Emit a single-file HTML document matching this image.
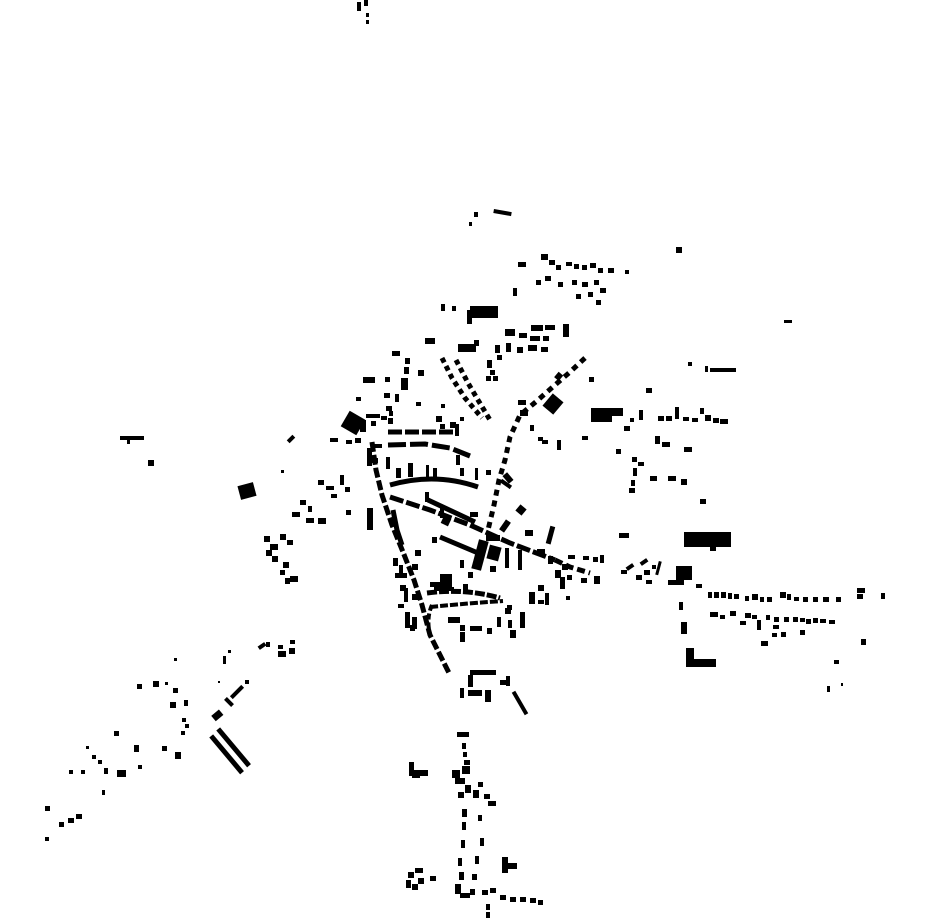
<!DOCTYPE html>
<html><head><meta charset="utf-8"><style>html,body{margin:0;padding:0;background:#fff;width:930px;height:924px;overflow:hidden}svg{display:block}</style></head>
<body>
<svg width="930" height="924" viewBox="0 0 930 924" xmlns="http://www.w3.org/2000/svg">
<g fill="#000" stroke="none">
<!-- top -->
<rect x="357" y="2" width="4" height="9"/><rect x="364" y="0" width="4" height="6"/><rect x="366" y="13" width="3" height="4"/><rect x="366" y="20" width="3" height="4"/>
<rect x="474" y="212" width="4" height="5"/><rect x="469" y="222" width="3" height="4"/><rect x="494" y="209" width="18" height="4" transform="rotate(10 494 209)"/>
<rect x="676" y="247" width="6" height="6"/><rect x="784" y="320" width="8" height="3"/>
<!-- NE cluster -->
<rect x="518" y="262" width="8" height="5"/><rect x="541" y="254" width="7" height="6"/><rect x="549" y="260" width="6" height="5"/><rect x="556" y="265" width="5" height="5"/><rect x="566" y="262" width="6" height="4"/><rect x="574" y="264" width="5" height="5"/><rect x="582" y="265" width="5" height="5"/><rect x="590" y="263" width="6" height="5"/><rect x="598" y="268" width="5" height="5"/><rect x="608" y="268" width="6" height="5"/><rect x="625" y="270" width="4" height="4"/>
<rect x="536" y="280" width="5" height="5"/><rect x="545" y="276" width="6" height="5"/><rect x="558" y="282" width="5" height="5"/><rect x="572" y="280" width="5" height="5"/><rect x="582" y="282" width="6" height="5"/><rect x="594" y="280" width="5" height="5"/><rect x="600" y="288" width="6" height="5"/><rect x="588" y="292" width="5" height="5"/><rect x="576" y="294" width="5" height="5"/><rect x="596" y="300" width="5" height="5"/><rect x="513" y="288" width="4" height="8"/>
<rect x="441" y="304" width="4" height="7"/><rect x="452" y="306" width="4" height="5"/><rect x="470" y="306" width="28" height="12"/><rect x="467" y="310" width="5" height="14"/>
<rect x="505" y="329" width="10" height="7"/><rect x="531" y="325" width="12" height="6"/><rect x="545" y="325" width="10" height="5"/><rect x="563" y="324" width="6" height="13"/><rect x="519" y="333" width="8" height="5"/><rect x="530" y="336" width="10" height="5"/><rect x="543" y="336" width="6" height="5"/><rect x="506" y="343" width="5" height="9"/><rect x="517" y="347" width="6" height="6"/><rect x="528" y="345" width="9" height="6"/><rect x="541" y="347" width="7" height="5"/><rect x="495" y="345" width="5" height="8"/><rect x="497" y="355" width="5" height="5"/>
<rect x="425" y="338" width="10" height="6"/><rect x="458" y="344" width="18" height="8"/><rect x="474" y="340" width="5" height="6"/>
<!-- north column -->
<rect x="392" y="351" width="8" height="5"/><rect x="405" y="358" width="5" height="6"/><rect x="404" y="367" width="5" height="7"/><rect x="401" y="378" width="7" height="12"/><rect x="363" y="377" width="12" height="6"/><rect x="385" y="377" width="5" height="5"/><rect x="418" y="370" width="6" height="6"/><rect x="384" y="393" width="6" height="5"/><rect x="395" y="394" width="4" height="8"/><rect x="386" y="406" width="6" height="5"/><rect x="381" y="416" width="6" height="4"/><rect x="389" y="411" width="4" height="5"/><rect x="388" y="418" width="5" height="6"/><rect x="356" y="397" width="5" height="4"/><rect x="416" y="402" width="5" height="4"/><rect x="436" y="416" width="6" height="6"/><rect x="441" y="404" width="4" height="4"/>
<rect x="366" y="414" width="14" height="4"/>
<!-- diag rows north -->
<g transform="rotate(58 442 358)"><rect x="442" y="356" width="72" height="4" fill="none"/></g>
<polyline points="442,358 452,378 465,398 482,418" fill="none" stroke="#000" stroke-width="5" stroke-dasharray="5 4"/>
<polyline points="456,360 468,383 478,400 490,420" fill="none" stroke="#000" stroke-width="5" stroke-dasharray="5 4"/>
<rect x="487" y="360" width="5" height="8"/><rect x="490" y="370" width="5" height="5"/><rect x="493" y="376" width="5" height="5"/>
<rect x="486" y="376" width="5" height="5"/><rect x="450" y="422" width="6" height="6"/><rect x="460" y="417" width="4" height="4"/><rect x="440" y="424" width="5" height="5"/>
<!-- NE road -->
<polyline points="585,358 570,372 555,385 538,400 520,415 510,437 505,460 499,480 494,505 488,530" fill="none" stroke="#000" stroke-width="5" stroke-dasharray="6 5"/>
<rect x="556" y="373" width="6" height="7" transform="rotate(40 559 376)"/><rect x="589" y="377" width="5" height="5"/>
<rect x="546" y="396" width="14" height="16" transform="rotate(40 553 404)"/>
<rect x="591" y="408" width="14" height="14"/><rect x="605" y="408" width="18" height="8"/><rect x="604" y="415" width="8" height="7"/><rect x="630" y="418" width="4" height="4"/><rect x="639" y="410" width="4" height="10"/><rect x="646" y="388" width="6" height="5"/><rect x="658" y="416" width="6" height="5"/><rect x="666" y="416" width="6" height="5"/><rect x="675" y="407" width="4" height="12"/><rect x="683" y="417" width="6" height="4"/><rect x="692" y="418" width="6" height="4"/><rect x="700" y="408" width="4" height="6"/><rect x="705" y="415" width="6" height="6"/><rect x="713" y="418" width="6" height="5"/><rect x="720" y="419" width="8" height="5"/>
<rect x="688" y="362" width="4" height="4"/><rect x="705" y="366" width="3" height="6"/><rect x="710" y="368" width="26" height="4"/>
<rect x="624" y="426" width="6" height="5"/><rect x="538" y="437" width="5" height="4"/><rect x="557" y="440" width="4" height="10"/><rect x="582" y="436" width="6" height="4"/><rect x="616" y="449" width="5" height="5"/><rect x="655" y="436" width="5" height="8"/><rect x="662" y="442" width="8" height="5"/><rect x="684" y="447" width="8" height="5"/>
<rect x="632" y="457" width="5" height="5"/><rect x="638" y="462" width="6" height="4"/><rect x="633" y="468" width="4" height="8"/><rect x="631" y="480" width="4" height="6"/><rect x="629" y="488" width="6" height="5"/><rect x="650" y="476" width="7" height="5"/><rect x="668" y="476" width="8" height="5"/><rect x="681" y="479" width="6" height="6"/><rect x="700" y="499" width="6" height="5"/>
<rect x="518" y="400" width="8" height="5"/><rect x="520" y="410" width="8" height="6"/><rect x="530" y="425" width="4" height="6"/><rect x="542" y="440" width="6" height="4"/>
<!-- center west -->
<rect x="344" y="414" width="18" height="18" transform="rotate(30 353 423)"/><rect x="360" y="420" width="6" height="12"/><rect x="371" y="421" width="5" height="5"/><rect x="330" y="438" width="8" height="4"/><rect x="346" y="440" width="6" height="4"/><rect x="355" y="438" width="6" height="5"/>
<polyline points="388,432 455,432" fill="none" stroke="#000" stroke-width="5" stroke-dasharray="14 3"/>
<rect x="455" y="424" width="4" height="12"/>
<polyline points="388,445 425,444 450,448 470,456" fill="none" stroke="#000" stroke-width="5" stroke-dasharray="18 4"/>
<rect x="374" y="444" width="8" height="4"/><rect x="367" y="448" width="5" height="18"/><rect x="372" y="458" width="6" height="5"/>
<rect x="386" y="457" width="4" height="12"/><rect x="408" y="463" width="5" height="14"/><rect x="396" y="468" width="5" height="10"/><rect x="426" y="465" width="3" height="14"/><rect x="433" y="468" width="4" height="12"/><rect x="460" y="468" width="4" height="8"/><rect x="475" y="468" width="3" height="12"/><rect x="456" y="455" width="4" height="10"/><rect x="486" y="470" width="5" height="5"/>
<path d="M390,485 Q435,472 478,487" fill="none" stroke="#000" stroke-width="5"/>
<rect x="505" y="473" width="6" height="10" transform="rotate(-40 508 478)"/>
<rect x="500" y="482" width="12" height="4" transform="rotate(35 506 484)"/>
<rect x="318" y="480" width="6" height="5"/><rect x="326" y="486" width="8" height="4"/><rect x="340" y="475" width="4" height="10"/><rect x="331" y="494" width="6" height="4"/><rect x="345" y="487" width="5" height="5"/><rect x="300" y="500" width="6" height="5"/><rect x="292" y="512" width="8" height="5"/><rect x="306" y="518" width="8" height="5"/><rect x="318" y="518" width="8" height="6"/><rect x="308" y="506" width="4" height="6"/><rect x="346" y="510" width="5" height="5"/><rect x="239" y="484" width="16" height="14" transform="rotate(-15 247 491)"/><rect x="281" y="470" width="3" height="3"/>
<rect x="120" y="436" width="24" height="4"/><rect x="127" y="440" width="3" height="4"/><rect x="148" y="460" width="6" height="6"/><rect x="287" y="437" width="8" height="4" transform="rotate(-45 291 439)"/>
<!-- west road chain -->
<polyline points="372,442 376,470 382,495 392,525 403,552 414,580 422,605 430,635 440,655 450,675" fill="none" stroke="#000" stroke-width="5" stroke-dasharray="10 3"/>
<polyline points="393,510 397,530 402,545" fill="none" stroke="#000" stroke-width="5"/>
<rect x="367" y="508" width="6" height="22"/>
<!-- diagonal main street -->
<polyline points="390,497 430,510 470,525 510,543 555,560" fill="none" stroke="#000" stroke-width="5" stroke-dasharray="14 3"/>
<polyline points="428,500 475,522" fill="none" stroke="#000" stroke-width="5"/>
<rect x="425" y="492" width="4" height="10"/><rect x="440" y="508" width="4" height="10"/><rect x="442" y="517" width="8" height="8" transform="rotate(25 446 521)"/><rect x="470" y="512" width="8" height="5"/><rect x="517" y="506" width="8" height="8" transform="rotate(40 521 510)"/><rect x="502" y="520" width="6" height="12" transform="rotate(35 505 526)"/><rect x="548" y="526" width="5" height="18" transform="rotate(15 550 535)"/><rect x="525" y="530" width="8" height="6"/>
<polyline points="440,537 478,553" fill="none" stroke="#000" stroke-width="5"/>
<rect x="475" y="540" width="10" height="30" transform="rotate(15 480 555)"/><rect x="488" y="546" width="12" height="14" transform="rotate(15 494 553)"/><rect x="486" y="535" width="14" height="6"/><rect x="505" y="548" width="4" height="20"/><rect x="518" y="550" width="4" height="20"/><rect x="490" y="566" width="6" height="6"/><rect x="460" y="560" width="4" height="8"/><rect x="432" y="537" width="5" height="6"/><rect x="415" y="550" width="6" height="6"/>
<rect x="537" y="549" width="8" height="6"/><rect x="555" y="570" width="6" height="8"/><rect x="548" y="556" width="5" height="8"/>
<!-- to east -->
<polyline points="555,560 570,567 590,573" fill="none" stroke="#000" stroke-width="5" stroke-dasharray="8 4"/>
<rect x="568" y="555" width="7" height="4"/><rect x="583" y="556" width="6" height="4"/><rect x="593" y="557" width="5" height="5"/><rect x="600" y="555" width="4" height="8"/><rect x="581" y="578" width="6" height="5"/><rect x="594" y="576" width="6" height="8"/><rect x="562" y="564" width="6" height="6"/><rect x="567" y="575" width="5" height="5"/><rect x="560" y="585" width="5" height="4"/><rect x="545" y="593" width="4" height="12"/><rect x="566" y="596" width="4" height="4"/><rect x="538" y="585" width="6" height="6"/><rect x="529" y="592" width="6" height="12"/><rect x="520" y="612" width="5" height="16"/><rect x="508" y="620" width="4" height="8"/><rect x="538" y="600" width="6" height="4"/>
<rect x="560" y="577" width="5" height="10"/>
<rect x="619" y="533" width="10" height="5"/><rect x="684" y="532" width="47" height="15"/><rect x="710" y="546" width="6" height="5"/>
<rect x="626" y="565" width="8" height="4" transform="rotate(-35 630 567)"/><rect x="640" y="560" width="8" height="4" transform="rotate(-35 644 562)"/><rect x="652" y="565" width="4" height="4"/><rect x="644" y="570" width="6" height="5"/><rect x="657" y="561" width="3" height="14" transform="rotate(15 658 568)"/><rect x="636" y="575" width="6" height="5"/><rect x="646" y="580" width="6" height="4"/><rect x="621" y="570" width="6" height="4"/>
<rect x="676" y="566" width="16" height="14"/><rect x="668" y="580" width="16" height="5"/><rect x="696" y="584" width="6" height="4"/>
<g><rect x="708" y="592" width="4" height="6"/><rect x="714" y="592" width="5" height="6"/><rect x="721" y="592" width="5" height="6"/><rect x="728" y="593" width="4" height="6"/><rect x="734" y="594" width="5" height="5"/><rect x="745" y="596" width="4" height="5"/><rect x="752" y="594" width="6" height="6"/><rect x="760" y="597" width="4" height="5"/><rect x="767" y="597" width="5" height="5"/><rect x="780" y="592" width="6" height="6"/><rect x="787" y="594" width="4" height="6"/><rect x="794" y="597" width="5" height="4"/><rect x="803" y="597" width="5" height="5"/><rect x="813" y="597" width="5" height="5"/><rect x="823" y="597" width="6" height="5"/><rect x="836" y="597" width="5" height="5"/><rect x="857" y="588" width="8" height="5"/><rect x="857" y="594" width="6" height="5"/><rect x="881" y="593" width="4" height="6"/></g>
<g><rect x="710" y="612" width="8" height="5"/><rect x="720" y="615" width="5" height="4"/><rect x="730" y="611" width="6" height="5"/><rect x="740" y="621" width="6" height="4"/><rect x="745" y="613" width="6" height="5"/><rect x="752" y="615" width="5" height="4"/><rect x="757" y="620" width="4" height="10"/><rect x="766" y="615" width="4" height="5"/><rect x="774" y="617" width="5" height="5"/><rect x="784" y="617" width="5" height="5"/><rect x="793" y="617" width="5" height="5"/><rect x="800" y="618" width="5" height="4"/><rect x="806" y="619" width="5" height="5"/><rect x="813" y="618" width="5" height="5"/><rect x="820" y="619" width="6" height="4"/><rect x="829" y="620" width="6" height="4"/><rect x="773" y="625" width="6" height="4"/><rect x="772" y="633" width="5" height="4"/><rect x="761" y="641" width="7" height="5"/><rect x="781" y="632" width="5" height="5"/><rect x="800" y="630" width="5" height="5"/><rect x="861" y="639" width="5" height="6"/><rect x="834" y="660" width="5" height="4"/><rect x="827" y="686" width="3" height="6"/><rect x="841" y="683" width="2" height="3"/></g>
<rect x="679" y="602" width="4" height="8"/><rect x="681" y="622" width="6" height="12"/><rect x="686" y="648" width="8" height="18"/><rect x="686" y="659" width="30" height="8"/>
<!-- south center -->
<rect x="412" y="564" width="6" height="6"/><rect x="393" y="558" width="5" height="8"/><rect x="399" y="565" width="4" height="10"/><rect x="395" y="573" width="12" height="5"/><rect x="400" y="585" width="6" height="6"/><rect x="404" y="588" width="4" height="14"/><rect x="412" y="594" width="6" height="6"/><rect x="405" y="612" width="5" height="16"/><rect x="412" y="617" width="5" height="12"/><rect x="398" y="604" width="6" height="4"/>
<rect x="440" y="574" width="12" height="14"/><rect x="430" y="582" width="10" height="5"/><rect x="434" y="587" width="20" height="4"/><rect x="463" y="584" width="5" height="6"/><rect x="468" y="572" width="5" height="6"/>
<path d="M427,593 Q465,588 500,598" fill="none" stroke="#000" stroke-width="5" stroke-dasharray="10 2"/>
<path d="M430,607 Q470,603 503,601" fill="none" stroke="#000" stroke-width="4" stroke-dasharray="8 2"/>
<path d="M432,605 Q426,618 430,635" fill="none" stroke="#000" stroke-width="4" stroke-dasharray="6 3"/>
<rect x="448" y="617" width="12" height="6"/><rect x="460" y="625" width="5" height="6"/><rect x="470" y="626" width="12" height="5"/><rect x="487" y="628" width="5" height="6"/><rect x="460" y="632" width="5" height="10"/><rect x="505" y="608" width="6" height="6"/><rect x="510" y="630" width="6" height="8"/><rect x="507" y="605" width="5" height="5"/>
<rect x="497" y="617" width="4" height="10"/><rect x="410" y="625" width="5" height="6"/>
<!-- south -->
<rect x="470" y="670" width="26" height="5"/><rect x="468" y="675" width="5" height="12"/><rect x="460" y="688" width="4" height="10"/><rect x="468" y="690" width="14" height="6"/><rect x="485" y="690" width="6" height="12"/><rect x="500" y="680" width="6" height="5"/><rect x="506" y="676" width="4" height="10"/><rect x="518" y="690" width="4" height="26" transform="rotate(-30 520 703)"/>
<rect x="457" y="732" width="12" height="5"/><rect x="462" y="743" width="4" height="6"/><rect x="463" y="752" width="4" height="5"/><rect x="464" y="760" width="6" height="5"/><rect x="462" y="766" width="8" height="8"/><rect x="452" y="770" width="8" height="8"/><rect x="455" y="778" width="10" height="6"/><rect x="465" y="785" width="6" height="8"/><rect x="458" y="792" width="6" height="6"/><rect x="473" y="790" width="6" height="8"/><rect x="478" y="782" width="5" height="5"/><rect x="484" y="794" width="6" height="5"/><rect x="488" y="801" width="8" height="5"/>
<rect x="409" y="762" width="5" height="14"/><rect x="412" y="770" width="8" height="8"/><rect x="420" y="770" width="8" height="6"/>
<rect x="462" y="809" width="5" height="8"/><rect x="462" y="822" width="4" height="8"/><rect x="478" y="815" width="4" height="6"/><rect x="480" y="838" width="4" height="8"/><rect x="461" y="840" width="4" height="8"/><rect x="475" y="856" width="4" height="8"/><rect x="458" y="858" width="4" height="8"/><rect x="459" y="872" width="5" height="8"/><rect x="472" y="874" width="5" height="6"/><rect x="502" y="857" width="6" height="16"/><rect x="502" y="863" width="15" height="6"/>
<rect x="408" y="872" width="6" height="6"/><rect x="415" y="868" width="8" height="5"/><rect x="406" y="880" width="5" height="8"/><rect x="412" y="884" width="6" height="6"/><rect x="430" y="876" width="6" height="5"/><rect x="418" y="878" width="6" height="6"/>
<rect x="455" y="884" width="6" height="10"/><rect x="460" y="893" width="10" height="5"/><rect x="470" y="889" width="5" height="6"/><rect x="482" y="890" width="6" height="5"/><rect x="490" y="888" width="6" height="5"/><rect x="500" y="895" width="6" height="5"/><rect x="510" y="897" width="6" height="5"/><rect x="520" y="897" width="6" height="5"/><rect x="530" y="898" width="6" height="5"/><rect x="538" y="900" width="5" height="5"/><rect x="486" y="904" width="4" height="6"/><rect x="486" y="912" width="4" height="6"/>
<!-- west cluster around 265-300,530-585 -->
<rect x="264" y="536" width="6" height="6"/><rect x="270" y="544" width="8" height="6"/><rect x="266" y="550" width="6" height="6"/><rect x="280" y="534" width="6" height="6"/><rect x="287" y="540" width="6" height="5"/><rect x="272" y="556" width="6" height="6"/><rect x="283" y="562" width="6" height="6"/><rect x="280" y="570" width="5" height="5"/><rect x="290" y="576" width="8" height="6"/><rect x="285" y="578" width="5" height="6"/>
<!-- SW -->
<rect x="258" y="644" width="8" height="4" transform="rotate(-35 262 646)"/><rect x="266" y="642" width="4" height="5"/><rect x="278" y="645" width="5" height="4"/><rect x="290" y="640" width="5" height="4"/><rect x="278" y="651" width="8" height="6"/><rect x="289" y="648" width="6" height="6"/>
<rect x="223" y="656" width="3" height="8"/><rect x="228" y="650" width="3" height="3"/><rect x="245" y="680" width="4" height="4"/><rect x="229" y="690" width="16" height="4" transform="rotate(-45 237 692)"/><rect x="224" y="700" width="10" height="4" transform="rotate(45 229 702)"/><rect x="212" y="712" width="10" height="7" transform="rotate(-40 217 715)"/><rect x="218" y="681" width="2" height="2"/>
<rect x="203" y="752" width="48" height="5" transform="rotate(50 227 754)"/><rect x="210" y="745" width="48" height="5" transform="rotate(50 234 747)"/>
<rect x="174" y="658" width="3" height="3"/><rect x="165" y="682" width="3" height="3"/><rect x="137" y="684" width="5" height="5"/><rect x="153" y="681" width="6" height="6"/><rect x="173" y="688" width="5" height="5"/><rect x="170" y="702" width="6" height="6"/><rect x="184" y="700" width="4" height="6"/><rect x="182" y="718" width="4" height="4"/><rect x="185" y="724" width="4" height="4"/><rect x="181" y="731" width="4" height="4"/><rect x="114" y="731" width="5" height="5"/><rect x="134" y="745" width="5" height="7"/><rect x="162" y="746" width="5" height="5"/><rect x="175" y="752" width="6" height="7"/><rect x="86" y="746" width="3" height="3"/><rect x="92" y="755" width="4" height="4"/><rect x="98" y="760" width="4" height="4"/><rect x="81" y="770" width="4" height="4"/><rect x="104" y="768" width="4" height="6"/><rect x="117" y="770" width="9" height="7"/><rect x="138" y="765" width="4" height="4"/><rect x="69" y="770" width="4" height="4"/><rect x="102" y="790" width="3" height="5"/>
<rect x="45" y="806" width="5" height="5"/><rect x="59" y="822" width="5" height="5"/><rect x="68" y="818" width="6" height="5"/><rect x="76" y="814" width="6" height="5"/><rect x="45" y="837" width="4" height="4"/>
</g>
</svg>
</body></html>
